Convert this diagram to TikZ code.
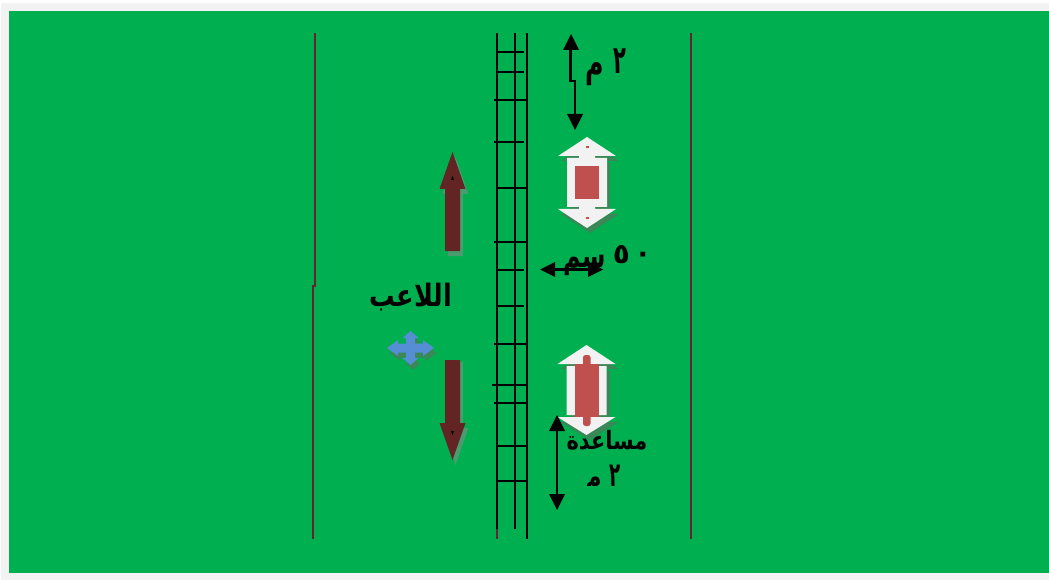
\documentclass[tikz,border=0pt]{standalone}
\usepackage{fontspec}
\usetikzlibrary{arrows.meta}
\TeXXeTstate=1
\newfontfamily\arabicfont[Script=Arabic]{DejaVu Sans}
\definecolor{fieldgreen}{HTML}{00B050}
\definecolor{pagegrey}{HTML}{F2F2F2}
\definecolor{linered}{HTML}{652530}
\definecolor{darkarrow}{HTML}{632523}
\definecolor{boxred}{HTML}{C0504D}
\definecolor{crossblue}{HTML}{558ED5}
\definecolor{shadowgreen}{HTML}{3A8757}
\definecolor{softshadow}{HTML}{4B9B70}
\tikzset{
  boundary/.style={draw=linered,line width=1.5pt},
  rail/.style={draw=black,line width=1.7pt},
  rung/.style={draw=black,line width=1.4pt},
  measure/.style={draw=black,line width=2.4pt},
  headfill/.style={fill=black,draw=none},
  whitepart/.style={fill=pagegrey,draw=none},
  redpart/.style={fill=boxred,draw=none},
  label/.style={inner sep=0pt,font=\arabicfont\bfseries\fontsize{22}{24}\selectfont,text=black},
}
\newcommand{\whitebox}[5]{% cx, tip y, top base y, bottom base y, bottom tip y
  \path[whitepart] (#1,#2) -- (#1+29,#3) -- (#1+8,#3) -- (#1+8,#3+2) -- (#1+20,#3+2) -- (#1+20,#4-2) -- (#1+8,#4-2) -- (#1+8,#4) -- (#1+29,#4) -- (#1,#5) -- (#1-29,#4) -- (#1-8,#4) -- (#1-8,#4-2) -- (#1-20,#4-2) -- (#1-20,#3+2) -- (#1-8,#3+2) -- (#1-8,#3) -- (#1-29,#3) -- cycle;
}
\newcommand{\darkup}[3]{% cx, tip y, bottom y
  (#1,#2) -- (#1+13,#2+37) -- (#1+7.5,#2+37) -- (#1+7.5,#3) -- (#1-7.5,#3) -- (#1-7.5,#2+37) -- (#1-13,#2+37) -- cycle
}
\newcommand{\darkdown}[3]{% cx, tip y, top y
  (#1,#2) -- (#1+13,#2-37) -- (#1+7.5,#2-37) -- (#1+7.5,#3) -- (#1-7.5,#3) -- (#1-7.5,#2-37) -- (#1-13,#2-37) -- cycle
}
\newcommand{\crosspath}{
  (0,-17) -- (8,-10) -- (4.7,-10) -- (4.7,-4.5) -- (12.5,-4.5) -- (12.5,-8) -- (23.5,0) -- (12.5,8) -- (12.5,4.5) -- (4.7,4.5) -- (4.7,10) -- (8,10) -- (0,17) -- (-8,10) -- (-4.7,10) -- (-4.7,4.5) -- (-12.5,4.5) -- (-12.5,8) -- (-23.5,0) -- (-12.5,-8) -- (-12.5,-4.5) -- (-4.7,-4.5) -- (-4.7,-10) -- (-8,-10) -- cycle
}
\begin{document}
\begin{tikzpicture}[x=1pt,y=-1pt]
\useasboundingbox (0,0) rectangle (1049,580);
\fill[white] (0,0) rectangle (1049,580);
\fill[pagegrey] (1,3) rectangle (1049,580);
\fill[fieldgreen] (9,11) rectangle (1049,573);

% boundary lines
\draw[boundary] (315,33) -- (315,286) -- (313,286) -- (313,539);
\draw[boundary] (691,33) -- (691,539);
\draw[boundary] (497,529) -- (497,539);

% ladder
\draw[rail] (497,33) -- (497,529);
\draw[rail] (515,33) -- (515,529);
\draw[rail] (527,33) -- (527,539);
\foreach \ya/\xa/\xb in {52/497/524,72/497/524,100/494/527,142/494/524,188/497/527,242/494/527,270/497/524,306/497/524,344/494/527,385/492/527,403/494/527,446/497/527,481/497/527}
  \draw[rung] (\xa,\ya) -- (\xb,\ya);

% dark red arrows
\fill[softshadow] [shift={(3,5)}] \darkup{452.5}{152}{251};
\fill[darkarrow] \darkup{452.5}{152}{251};
\fill[black] (452.5,176) -- (454,180) -- (451,180) -- cycle;
\fill[softshadow] [shift={(3,0)}] \darkdown{452.5}{465}{362};
\fill[darkarrow] \darkdown{452.5}{460}{360};
\fill[black] (452.5,435) -- (454,431) -- (451,431) -- cycle;

% blue cross
\fill[shadowgreen,shift={(413,353)}] \crosspath;
\fill[crossblue,shift={(410.5,348)}] \crosspath;

% upper white arrow
\begin{scope}[shift={(3,5)}]
  \fill[shadowgreen] (587,137) -- (616,156) -- (558,156) -- cycle;
  \fill[shadowgreen] (607,158) rectangle (567,207);
  \fill[shadowgreen] (587,228) -- (616,209) -- (558,209) -- cycle;
\end{scope}
\whitebox{587}{137}{156}{209}{228}
\fill[boxred] (575,166) rectangle (599,199.5);
\fill[boxred] (586,146.5) rectangle (588.5,148);
\fill[boxred] (586,217) rectangle (588.5,218.5);

% lower white arrow
\begin{scope}[shift={(3,5)}]
  \fill[shadowgreen] (586.5,345) -- (615.5,364) -- (557.5,364) -- cycle;
  \fill[shadowgreen] (606.5,366) rectangle (566.5,415);
  \fill[shadowgreen] (586.5,435) -- (615.5,417) -- (557.5,417) -- cycle;
\end{scope}
\whitebox{586.5}{345}{364}{417}{435}
\fill[boxred] (574.5,364) rectangle (598.5,417);
\fill[boxred,rounded corners=2.5pt] (583,355) rectangle (590.5,426);

% measures
\coordinate (ma) at (570.5,50);
\coordinate (mb) at (570.5,81);
\coordinate (mc) at (575,81);
\coordinate (md) at (575,115);
\draw[measure] (ma) -- (mb) -- (mc) -- (md);
\path[headfill] (571,34) -- (579,50) -- (563,50) -- cycle;
\path[headfill] (575,130) -- (583,114) -- (567,114) -- cycle;

\coordinate (me) at (555,269.5);
\coordinate (mf) at (588,269.5);
\draw[measure] (me) -- (mf);
\path[headfill] (540,269.5) -- (555,262) -- (555,277) -- cycle;
\path[headfill] (603,269.5) -- (588,262) -- (588,277) -- cycle;

\coordinate (mg) at (557,430);
\coordinate (mh) at (557,495);
\draw[measure] (mg) -- (mh);
\path[headfill] (557,415) -- (565,431) -- (549,431) -- cycle;
\path[headfill] (557,510) -- (565,494) -- (549,494) -- cycle;

% labels
\node[label] (twoa) at (620,61.5) {\scalebox{.7}[1.3]{\fontsize{30}{32}\selectfont ٢}};
\node[label] (meema) at (595,74) {\scalebox{.9}[1.35]{\fontsize{28}{30}\selectfont م}};
\node[label] (five) at (621.5,254.5) {\fontsize{28}{30}\selectfont ٥};
\node[label] (zero) at (643,257.5) {\fontsize{28}{30}\selectfont ٠};
\node[label] (cm) at (585,265) {\scalebox{.85}[1.2]{\fontsize{28}{30}\selectfont\beginR سم\endR}};
\node[label] (player) at (411,297) {\scalebox{1.16}[1.4]{\beginR اللاعب\endR}};
\node[label] (help) at (607,440) {\scalebox{.95}[1.15]{\beginR مساعدة\endR}};
\begin{scope}
  \clip (560,455) rectangle (660,485);
  \node[label] (twob) at (615.5,476) {\scalebox{.7}[1.3]{\fontsize{26}{28}\selectfont ٢}};
  \node[label] (meemb) at (593.5,486) {\scalebox{.85}[1.1]{\fontsize{26}{28}\selectfont م}};
\end{scope}
\end{tikzpicture}
\end{document}
